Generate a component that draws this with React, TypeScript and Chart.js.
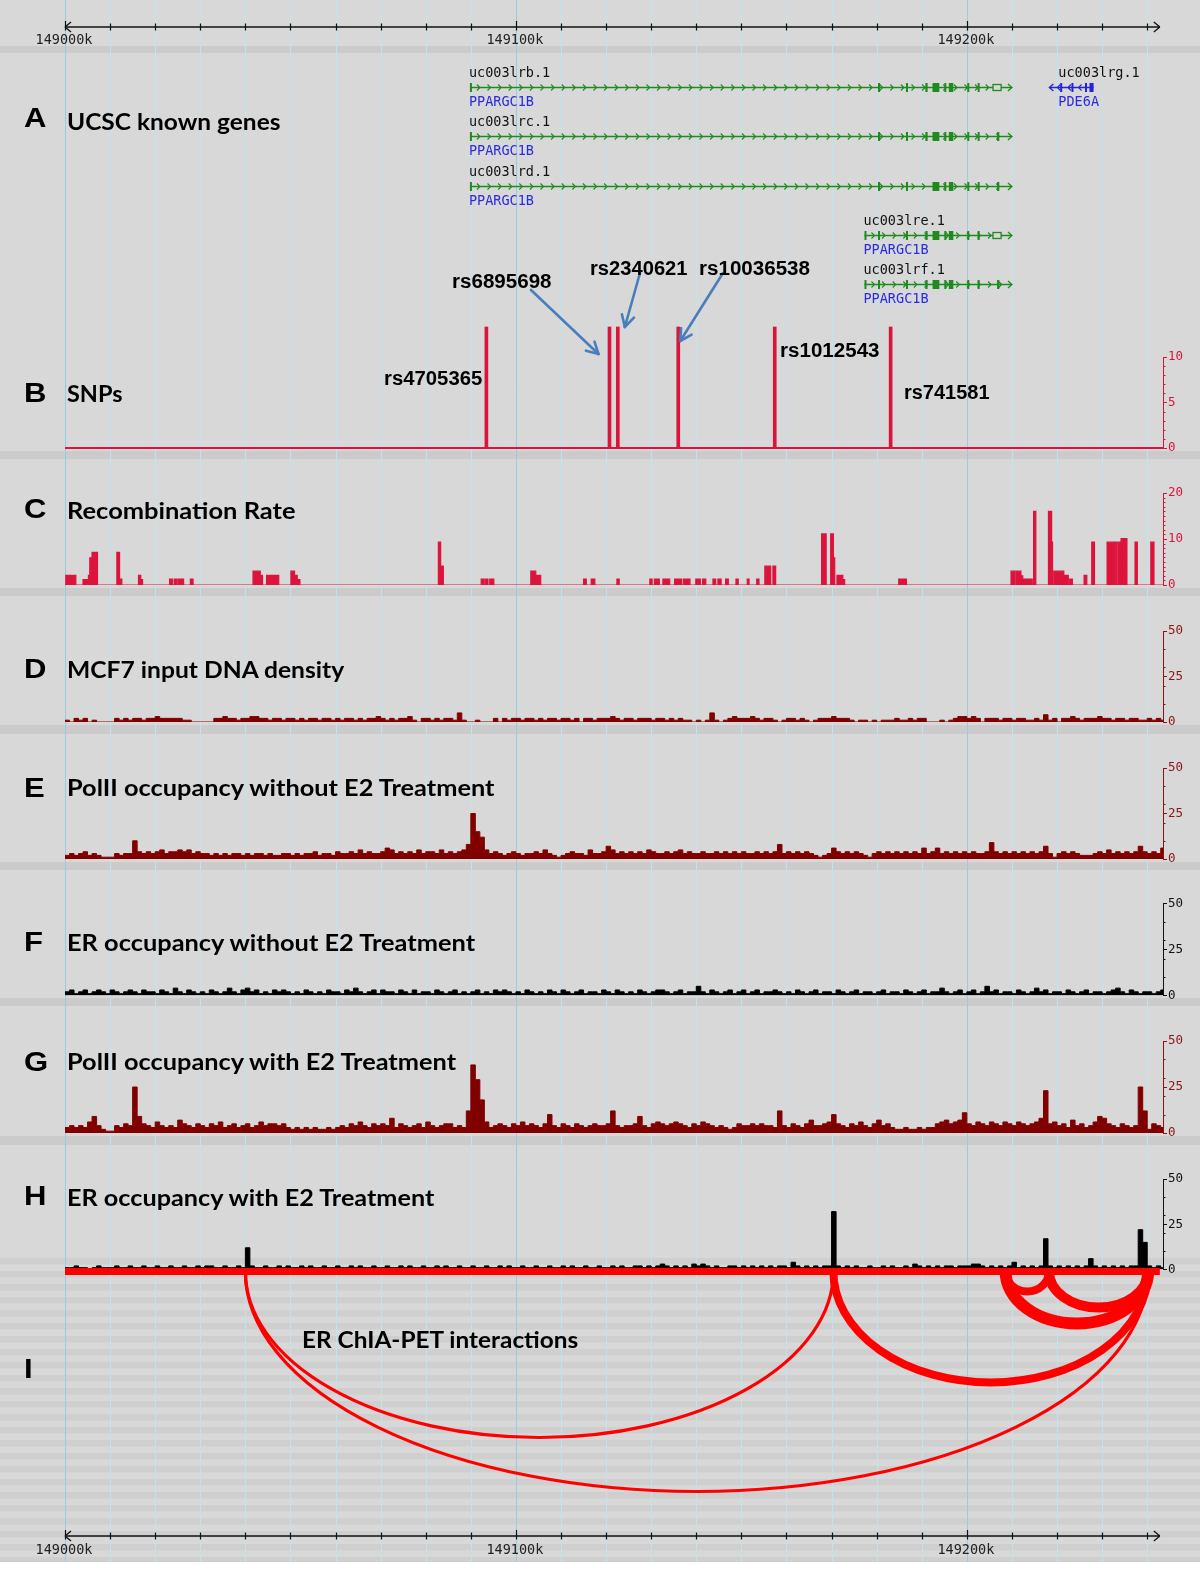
import React, { useEffect, useRef } from 'react';
import { Chart, registerables } from 'chart.js';

Chart.register(...registerables);

// ================= DATA =================
const REGION_START_KB = 149000;
const REGION_END_KB = 149243.5;
const AXIS_END_KB = 149242.8;

const axisTickKb = [149000, 149010, 149020, 149030, 149040, 149050, 149060, 149070, 149080, 149090, 149100, 149110, 149120, 149130, 149140, 149150, 149160, 149170, 149180, 149190, 149200, 149210, 149220, 149230, 149240];
const axisLabelKb = [149000, 149100, 149200];

// Genes (UCSC known genes)
const geneIds = ['uc003lrb.1', 'uc003lrc.1', 'uc003lrd.1', 'uc003lre.1', 'uc003lrf.1', 'uc003lrg.1'];
const geneSymbols = ['PPARGC1B', 'PPARGC1B', 'PPARGC1B', 'PPARGC1B', 'PPARGC1B', 'PDE6A'];
const geneRow = [0, 1, 2, 3, 4, 0];
const geneStrand = [1, 1, 1, 1, 1, -1];
const geneStartKb = [149089.8, 149089.8, 149089.8, 149177.3, 149177.3, 149218.3];
const geneEndKb = [149210.0, 149210.0, 149210.0, 149210.0, 149210.0, 149228.1];
const geneExonsKb = [
  [[149089.8, 149090.1], [149180.3, 149180.7], [149186.5, 149186.8], [149190.8, 149191.3], [149192.4, 149193.9], [149195.0, 149195.3], [149196.0, 149197.0], [149200.1, 149200.4], [149202.4, 149202.8]],
  [[149089.8, 149090.1], [149180.3, 149180.7], [149186.5, 149186.8], [149190.8, 149191.3], [149192.4, 149193.9], [149195.0, 149195.3], [149196.0, 149197.0], [149200.1, 149200.4], [149202.4, 149202.8], [149206.7, 149207.2]],
  [[149089.8, 149090.1], [149180.3, 149180.7], [149186.5, 149186.8], [149192.4, 149193.9], [149195.0, 149195.3], [149196.0, 149197.0], [149200.1, 149200.4], [149202.4, 149202.8], [149206.7, 149207.2]],
  [[149177.3, 149177.6], [149180.3, 149180.7], [149186.5, 149186.8], [149190.8, 149191.3], [149192.4, 149193.9], [149195.0, 149195.3], [149196.0, 149197.0], [149200.1, 149200.4], [149202.4, 149202.8]],
  [[149177.3, 149177.6], [149180.3, 149180.7], [149186.5, 149186.8], [149190.8, 149191.3], [149192.4, 149193.9], [149195.0, 149195.3], [149196.0, 149197.0], [149200.1, 149200.4], [149202.4, 149202.8], [149206.7, 149207.2]],
  [[149220.7, 149220.9], [149223.2, 149223.4], [149226.2, 149226.4], [149227.2, 149228.1]],
];
const geneUtrKb = [[[149205.8, 149207.6]], [], [], [[149205.8, 149207.6]], [], []];

// SNPs
const snpIds = ['rs4705365', 'rs6895698', 'rs2340621', 'rs10036538', 'rs1012543', 'rs741581'];
const snpPosKb = [149093.45, 149120.75, 149122.6, 149136.0, 149157.4, 149183.1];
const snpScore = [13.3, 13.3, 13.3, 13.3, 13.3, 13.3];

// Recombination rate segments
const recStartKb = [149000.18, 149004.0, 149005.2, 149005.5, 149006.0, 149011.5, 149012.1, 149016.3, 149016.8, 149023.2, 149024.2, 149025.1, 149027.8, 149041.7, 149043.3, 149044.7, 149050.1, 149050.9, 149051.6, 149082.8, 149083.3, 149092.3, 149093.2, 149094.2, 149103.3, 149103.9, 149104.4, 149115.0, 149116.7, 149122.4, 149129.7, 149130.7, 149132.6, 149135.2, 149137.1, 149139.9, 149141.4, 149143.7, 149144.8, 149146.5, 149148.8, 149151.3, 149153.4, 149155.2, 149157.0, 149167.8, 149169.8, 149170.4, 149171.2, 149172.5, 149184.9, 149209.8, 149211.0, 149212.0, 149212.4, 149214.8, 149218.1, 149218.8, 149219.3, 149221.5, 149222.8, 149226.0, 149227.7, 149231.1, 149232.9, 149233.6, 149234.2, 149237.3, 149240.8];
const recEndKb = [149002.4, 149005.2, 149005.5, 149006.0, 149007.2, 149012.1, 149012.6, 149016.8, 149017.2, 149023.8, 149024.8, 149026.3, 149028.4, 149043.3, 149043.8, 149047.4, 149050.9, 149051.5, 149052.1, 149083.3, 149083.9, 149092.9, 149093.8, 149095.1, 149103.7, 149104.4, 149105.5, 149115.6, 149117.5, 149122.9, 149130.2, 149131.8, 149134.1, 149136.7, 149138.6, 149140.9, 149142.1, 149144.3, 149145.5, 149147.1, 149149.3, 149151.7, 149153.9, 149156.5, 149157.6, 149168.8, 149170.4, 149170.7, 149172.5, 149172.9, 149186.6, 149210.7, 149212.0, 149212.4, 149214.5, 149215.3, 149218.8, 149219.0, 149221.5, 149222.5, 149223.4, 149226.6, 149228.3, 149232.7, 149233.3, 149234.2, 149235.5, 149237.8, 149241.5];
const recRate = [2.1, 1.2, 2.1, 5.9, 7.1, 7.1, 1.3, 2.1, 1.2, 1.3, 1.3, 1.3, 1.3, 3.0, 2.1, 2.1, 3.0, 2.1, 1.2, 9.3, 4.1, 1.3, 1.3, 1.3, 3.0, 3.0, 2.1, 1.3, 1.3, 1.3, 1.3, 1.3, 1.3, 1.3, 1.3, 1.3, 1.3, 1.3, 1.3, 1.3, 1.3, 1.3, 1.3, 4.1, 4.1, 11.1, 11.1, 5.9, 2.1, 1.2, 1.3, 3.0, 3.0, 2.0, 1.3, 16.0, 16.0, 9.3, 3.0, 2.1, 1.3, 2.1, 9.3, 9.3, 9.3, 9.3, 10.1, 9.3, 9.3];

// Read-density tracks, 1 kb bins starting at 149000k
const BIN_START_KB = 149000;
const BIN_KB = 1;
const inputDensity = [
  1, 0, 2, 1, 2, 0, 1, 0, 0, 0,
  0, 2, 1, 2, 1, 2, 2, 1, 2, 2,
  3, 2, 2, 2, 2, 2, 1, 1, 0, 0,
  0, 0, 0, 2, 2, 3, 2, 2, 1, 2,
  2, 3, 3, 2, 2, 1, 2, 2, 1, 2,
  2, 1, 2, 1, 2, 2, 1, 2, 2, 1,
  2, 1, 2, 2, 1, 2, 1, 2, 2, 3,
  2, 1, 2, 1, 2, 2, 3, 1, 0, 2,
  2, 1, 2, 1, 2, 2, 1, 5, 1, 0,
  0, 1, 0, 0, 0, 2, 0, 2, 1, 2,
  2, 1, 2, 2, 1, 2, 1, 2, 2, 1,
  2, 2, 1, 2, 0, 2, 2, 1, 2, 2,
  2, 3, 2, 1, 2, 2, 1, 2, 2, 2,
  1, 2, 2, 1, 2, 1, 2, 1, 1, 0,
  1, 0, 1, 5, 1, 0, 1, 2, 3, 2,
  2, 2, 3, 2, 1, 2, 2, 1, 0, 1,
  2, 2, 1, 2, 1, 0, 1, 2, 2, 2,
  3, 2, 2, 2, 1, 0, 1, 1, 0, 1,
  0, 1, 1, 1, 2, 1, 1, 2, 1, 2,
  2, 0, 0, 0, 1, 0, 1, 2, 3, 3,
  2, 3, 2, 0, 2, 2, 2, 1, 2, 2,
  1, 2, 2, 1, 1, 2, 1, 4, 1, 2,
  0, 2, 2, 3, 2, 1, 2, 2, 2, 3,
  2, 2, 1, 2, 2, 1, 2, 2, 1, 1,
  2, 1, 2, 1,
];
const polIINoE2 = [
  2, 3, 2, 3, 4, 2, 3, 2, 1, 1,
  1, 3, 2, 3, 3, 10, 4, 3, 4, 3,
  4, 5, 3, 4, 4, 5, 4, 5, 3, 4,
  3, 3, 2, 3, 2, 3, 2, 3, 3, 2,
  3, 2, 3, 3, 2, 3, 2, 2, 3, 3,
  2, 3, 2, 3, 3, 4, 2, 3, 3, 2,
  4, 3, 3, 4, 3, 5, 3, 4, 3, 3,
  4, 6, 5, 3, 4, 3, 4, 3, 5, 3,
  4, 4, 3, 5, 3, 4, 3, 4, 5, 8,
  25, 15, 12, 5, 3, 4, 3, 2, 3, 4,
  3, 2, 3, 3, 4, 3, 5, 3, 2, 1,
  2, 3, 4, 3, 3, 2, 5, 3, 3, 4,
  7, 5, 3, 4, 3, 4, 3, 4, 3, 5,
  4, 3, 3, 4, 3, 4, 5, 3, 4, 3,
  3, 4, 3, 3, 4, 3, 4, 3, 4, 3,
  4, 3, 3, 4, 3, 4, 3, 4, 8, 3,
  4, 3, 4, 3, 4, 3, 2, 1, 2, 3,
  6, 4, 3, 4, 3, 4, 3, 2, 1, 3,
  4, 3, 4, 3, 4, 3, 4, 3, 4, 3,
  6, 3, 4, 6, 3, 4, 3, 4, 3, 4,
  3, 4, 3, 3, 4, 9, 4, 3, 4, 3,
  4, 3, 4, 3, 4, 3, 4, 7, 3, 1,
  3, 4, 3, 4, 3, 2, 2, 2, 3, 4,
  3, 5, 3, 4, 3, 4, 3, 4, 7, 4,
  3, 4, 3, 6,
];
const erNoE2 = [
  2, 3, 1, 2, 3, 1, 2, 3, 2, 1,
  3, 2, 1, 2, 3, 2, 1, 3, 2, 2,
  1, 3, 2, 1, 4, 2, 1, 3, 2, 1,
  2, 1, 3, 2, 1, 2, 4, 2, 1, 3,
  4, 2, 3, 1, 2, 1, 3, 2, 3, 2,
  1, 2, 1, 3, 2, 1, 2, 1, 3, 2,
  2, 1, 3, 2, 4, 2, 1, 2, 3, 1,
  3, 2, 2, 1, 3, 2, 1, 3, 1, 2,
  2, 1, 3, 2, 1, 2, 3, 1, 2, 1,
  2, 3, 1, 2, 1, 3, 2, 3, 2, 1,
  2, 1, 3, 2, 1, 2, 1, 3, 2, 1,
  3, 2, 1, 2, 3, 1, 2, 2, 1, 3,
  2, 1, 3, 2, 1, 2, 1, 3, 2, 1,
  2, 3, 3, 2, 1, 2, 3, 1, 2, 2,
  5, 2, 1, 3, 2, 1, 2, 3, 1, 2,
  3, 1, 2, 3, 1, 2, 2, 3, 2, 1,
  2, 1, 3, 2, 1, 2, 3, 1, 2, 2,
  1, 3, 2, 1, 2, 3, 1, 2, 2, 1,
  2, 3, 1, 2, 2, 1, 3, 2, 1, 2,
  3, 1, 2, 2, 4, 2, 1, 2, 3, 1,
  2, 3, 1, 2, 5, 2, 3, 1, 2, 2,
  1, 3, 2, 1, 2, 4, 2, 3, 1, 2,
  2, 1, 3, 2, 1, 2, 3, 1, 2, 2,
  1, 2, 3, 4, 2, 1, 3, 2, 1, 2,
  2, 1, 2, 3,
];
const polIIE2 = [
  3, 4, 3, 4, 3, 6, 9, 4, 2, 1,
  1, 4, 3, 5, 4, 25, 9, 5, 4, 3,
  6, 4, 3, 4, 3, 7, 5, 4, 3, 5,
  4, 3, 5, 4, 6, 3, 4, 5, 3, 4,
  5, 3, 4, 6, 4, 5, 5, 4, 5, 3,
  2, 3, 2, 3, 2, 3, 2, 2, 3, 2,
  3, 4, 3, 5, 4, 6, 4, 3, 5, 4,
  5, 4, 8, 3, 5, 4, 3, 4, 5, 3,
  6, 4, 3, 4, 5, 5, 3, 4, 3, 12,
  37, 29, 18, 6, 3, 4, 5, 4, 3, 5,
  4, 6, 4, 5, 4, 3, 5, 10, 4, 3,
  5, 4, 3, 5, 4, 3, 4, 5, 4, 4,
  5, 12, 4, 3, 4, 4, 5, 9, 4, 3,
  5, 6, 5, 4, 5, 6, 5, 4, 3, 5,
  4, 6, 5, 4, 3, 4, 3, 2, 3, 5,
  4, 4, 5, 4, 5, 4, 4, 3, 12, 4,
  3, 5, 4, 3, 5, 7, 4, 4, 5, 6,
  10, 5, 4, 3, 5, 4, 6, 4, 3, 5,
  7, 4, 5, 3, 2, 2, 3, 2, 2, 3,
  2, 3, 3, 5, 6, 7, 5, 6, 7, 11,
  5, 4, 6, 5, 4, 6, 5, 4, 6, 5,
  4, 6, 5, 4, 5, 6, 8, 23, 5, 6,
  4, 5, 3, 7, 4, 5, 3, 4, 6, 9,
  8, 5, 4, 3, 5, 4, 3, 4, 25, 12,
  2, 5, 4, 3,
];
const erE2 = [
  1, 1, 2, 1, 1, 0, 1, 2, 1, 1,
  1, 2, 1, 1, 2, 1, 1, 2, 1, 1,
  2, 1, 1, 2, 1, 1, 2, 1, 1, 2,
  1, 2, 2, 1, 1, 2, 1, 1, 2, 1,
  12, 2, 1, 1, 2, 1, 1, 2, 1, 2,
  1, 1, 2, 1, 2, 1, 1, 2, 1, 1,
  2, 1, 1, 2, 1, 2, 1, 1, 2, 1,
  1, 2, 1, 1, 2, 1, 2, 1, 1, 2,
  1, 1, 2, 1, 2, 1, 1, 2, 1, 1,
  2, 1, 1, 2, 1, 1, 2, 1, 2, 1,
  1, 2, 1, 1, 2, 1, 1, 2, 1, 1,
  2, 1, 2, 1, 1, 2, 1, 1, 2, 1,
  1, 2, 1, 2, 1, 1, 2, 2, 1, 2,
  1, 2, 3, 2, 1, 2, 1, 2, 1, 3,
  2, 3, 2, 1, 2, 1, 1, 2, 2, 1,
  2, 1, 2, 1, 2, 1, 2, 1, 2, 2,
  1, 4, 2, 1, 2, 1, 2, 1, 2, 2,
  32, 2, 1, 2, 1, 2, 1, 1, 2, 1,
  1, 2, 1, 2, 1, 1, 2, 1, 3, 2,
  1, 2, 1, 2, 1, 2, 2, 1, 2, 2,
  2, 3, 3, 2, 1, 2, 1, 2, 1, 2,
  4, 1, 2, 1, 2, 1, 2, 17, 2, 1,
  2, 1, 2, 1, 2, 1, 2, 6, 2, 1,
  2, 1, 2, 1, 2, 1, 2, 2, 22, 15,
  2, 1, 2, 1,
];

// ChIA-PET interactions
const chiaAnchorAKb = [149040.0, 149040.0, 149170.4, 149208.6, 149218.2, 149208.6];
const chiaAnchorBKb = [149240.2, 149170.4, 149240.2, 149240.2, 149240.2, 149218.2];
const chiaDepth = [220, 166, 111, 52, 36, 20];
const chiaWeight = [3.2, 3.2, 8, 12, 10, 8];

// Track titles
const panelLetters = ['A', 'B', 'C', 'D', 'E', 'F', 'G', 'H', 'I'];
const panelTitles = ['UCSC known genes', 'SNPs', 'Recombination Rate', 'MCF7 input DNA density', 'PolII occupancy without E2 Treatment', 'ER occupancy without E2 Treatment', 'PolII occupancy with E2 Treatment', 'ER occupancy with E2 Treatment', 'ER ChIA-PET interactions'];

// ================= LAYOUT / STYLE =================
const W = 1200;
const PLOT_LEFT = 65;
const AXIS_W = 37;
const BG_H = 1562;
const BG = '#d8d8d8';
const BAND = '#cbcbcb';
const STRIPE = '#cfcfcf';
const BANDS = [[46, 53], [451, 459], [588, 596], [725, 734], [862, 870], [998, 1006], [1136, 1145]];
const STRIPE_TOP = 1258;
const STRIPE_PERIOD = 13;
const GRID_MINOR = '#bfe4ee';
const GRID_MAJOR = '#9ccbe0';
const TOP_AXIS_Y = 27;
const TOP_LABEL_Y = 40.5;
const BOTTOM_AXIS_Y = 1536;
const BOTTOM_LABEL_Y = 1550;
const CRIMSON = '#dc143c';
const DARKRED = '#800000';
const AXIS_DARKRED = '#8b1515';
const GREEN = '#1f8b1f';
const BLUE = '#2323d8';
const ARC_RED = '#ff0000';
const MONO = '"DejaVu Sans Mono", monospace';

const letterY = [118, 392.5, 509, 668.5, 787.5, 941.5, 1061.5, 1196, 1369];
const titleX = [67, 67, 67, 67, 67, 67, 67, 67, 302];
const titleY = [122, 394, 511, 670, 788.3, 943, 1061.7, 1197.5, 1340];
const titleW = [213.5, 55.5, 228.5, 278, 429.4, 410, 391, 369.3, 277];

const snpLabelX = [384, 451.5, 589.5, 698.5, 780, 904];
const snpLabelY = [377.5, 280.5, 267.5, 267.5, 350, 391.5];
const snpLabelW = [98.3, 99.5, 97.5, 111, 99.5, 85.5];
const snpArrowTail = [null, [531, 290], [640, 273], [723, 273], null, null];
const snpArrowTipDx = [0, -11, 7, 2, 0, 0];
const snpArrowTipY = [0, 354, 327, 341, 0, 0];

// ================= HELPERS =================
function line(ctx, x0, y0, x1, y1) {
  ctx.beginPath();
  ctx.moveTo(x0, y0);
  ctx.lineTo(x1, y1);
  ctx.stroke();
}

function binPoints(vals) {
  const pts = vals.map((v, i) => ({ x: BIN_START_KB + i * BIN_KB, y: v }));
  pts.push({ x: BIN_START_KB + vals.length * BIN_KB, y: 0 });
  return pts;
}

function recPoints() {
  const pts = [{ x: REGION_START_KB, y: 0 }];
  recStartKb.forEach((s, i) => {
    pts.push({ x: s, y: recRate[i] });
    pts.push({ x: recEndKb[i], y: 0 });
  });
  pts.push({ x: REGION_END_KB, y: 0 });
  return pts;
}

function drawGenomeAxis(ctx, x, y, labelY) {
  const x0 = x.getPixelForValue(REGION_START_KB);
  const x1 = x.getPixelForValue(AXIS_END_KB);
  ctx.strokeStyle = '#111';
  ctx.lineWidth = 1.3;
  line(ctx, x0, y, x1, y);
  line(ctx, x0, y, x0 + 6, y - 5);
  line(ctx, x0, y, x0 + 6, y + 5);
  line(ctx, x1, y, x1 - 6, y - 5);
  line(ctx, x1, y, x1 - 6, y + 5);
  ctx.lineWidth = 1.2;
  for (const kb of axisTickKb) {
    const px = Math.round(x.getPixelForValue(kb)) + 0.5;
    const major = axisLabelKb.includes(kb);
    line(ctx, px, y - (major ? 6 : 3.5), px, y + 3.5);
  }
  ctx.fillStyle = '#222';
  ctx.font = `13.5px ${MONO}`;
  ctx.textAlign = 'center';
  ctx.textBaseline = 'middle';
  for (const kb of axisLabelKb) {
    ctx.fillText(`${kb}k`, x.getPixelForValue(kb) - 1, labelY);
  }
}

const bgPlugin = {
  id: 'bgTracks',
  beforeDraw(chart) {
    const { ctx, width, height } = chart;
    const x = chart.scales.x;
    ctx.save();
    ctx.fillStyle = BG;
    ctx.fillRect(0, 0, width, height);
    ctx.fillStyle = BAND;
    for (const [a, b] of BANDS) ctx.fillRect(0, a, width, b - a);
    ctx.fillStyle = STRIPE;
    for (let y = STRIPE_TOP; y < height; y += STRIPE_PERIOD) ctx.fillRect(0, y, width, STRIPE_PERIOD / 2);
    ctx.lineWidth = 1;
    for (const kb of axisTickKb) {
      const px = Math.round(x.getPixelForValue(kb)) + 0.5;
      ctx.strokeStyle = kb % 100 === 0 ? GRID_MAJOR : GRID_MINOR;
      line(ctx, px, 0, px, height);
    }
    drawGenomeAxis(ctx, x, TOP_AXIS_Y, TOP_LABEL_Y);
    drawGenomeAxis(ctx, x, BOTTOM_AXIS_Y, BOTTOM_LABEL_Y);
    ctx.restore();
  },
};

const genePlugin = {
  id: 'genes',
  afterDraw(chart) {
    const { ctx } = chart;
    const x = chart.scales.x;
    const y = chart.scales.y;
    ctx.save();
    geneIds.forEach((id, g) => {
      const yc = Math.round(y.getPixelForValue(geneRow[g])) + 0.5;
      const xs = x.getPixelForValue(geneStartKb[g]);
      const xe = x.getPixelForValue(geneEndKb[g]);
      const dir = geneStrand[g];
      const col = dir > 0 ? GREEN : BLUE;
      ctx.strokeStyle = col;
      ctx.fillStyle = col;
      ctx.lineWidth = 1.5;
      line(ctx, xs, yc, xe, yc);
      ctx.lineWidth = 1.1;
      for (let px = xs + 9; px < xe - 5; px += 10.6) {
        ctx.beginPath();
        ctx.moveTo(px - 2 * dir, yc - 3);
        ctx.lineTo(px + 1 * dir, yc);
        ctx.lineTo(px - 2 * dir, yc + 3);
        ctx.stroke();
      }
      const tip = dir > 0 ? xe : xs;
      ctx.lineWidth = 1.3;
      ctx.beginPath();
      ctx.moveTo(tip - 4 * dir, yc - 3.5);
      ctx.lineTo(tip, yc);
      ctx.lineTo(tip - 4 * dir, yc + 3.5);
      ctx.stroke();
      for (const [a, b] of geneExonsKb[g]) {
        const xa = x.getPixelForValue(a);
        const xb = x.getPixelForValue(b);
        ctx.fillRect(xa, yc - 4.5, Math.max(xb - xa, 2), 9);
      }
      for (const [a, b] of geneUtrKb[g]) {
        const xa = x.getPixelForValue(a);
        const xb = x.getPixelForValue(b);
        ctx.fillStyle = BG;
        ctx.fillRect(xa, yc - 3, xb - xa, 6);
        ctx.lineWidth = 1.3;
        ctx.strokeRect(xa, yc - 3, xb - xa, 6);
        ctx.fillStyle = col;
      }
      ctx.font = `13.5px ${MONO}`;
      ctx.textAlign = 'left';
      ctx.textBaseline = 'middle';
      const lx = dir > 0 ? xs - 1 : xs + 9;
      ctx.fillStyle = '#111';
      ctx.fillText(id, lx, yc - 14.5);
      ctx.fillStyle = '#2a2ae0';
      ctx.fillText(geneSymbols[g], lx, yc + 14.5);
    });
    ctx.restore();
  },
};

const snpPlugin = {
  id: 'snpExtras',
  beforeDatasetsDraw(chart) {
    const { ctx, chartArea } = chart;
    const y0 = chart.scales.y.getPixelForValue(0);
    ctx.save();
    ctx.strokeStyle = CRIMSON;
    ctx.lineWidth = 2;
    line(ctx, chartArea.left, y0, chartArea.right, y0);
    ctx.restore();
  },
  afterDraw(chart) {
    const { ctx } = chart;
    const x = chart.scales.x;
    const off = CANVASES.snp.top;
    ctx.save();
    ctx.strokeStyle = '#4a7ebb';
    ctx.lineWidth = 2.6;
    ctx.lineCap = 'round';
    snpPosKb.forEach((p, i) => {
      const tail = snpArrowTail[i];
      if (!tail) return;
      const tx = x.getPixelForValue(p) + snpArrowTipDx[i];
      const ty = snpArrowTipY[i] - off;
      const sx = tail[0];
      const sy = tail[1] - off;
      line(ctx, sx, sy, tx, ty);
      const ang = Math.atan2(ty - sy, tx - sx);
      const L = 13;
      const spread = 0.5;
      line(ctx, tx, ty, tx - L * Math.cos(ang - spread), ty - L * Math.sin(ang - spread));
      line(ctx, tx, ty, tx - L * Math.cos(ang + spread), ty - L * Math.sin(ang + spread));
    });
    ctx.restore();
  },
};

const chiaPlugin = {
  id: 'chiaArcs',
  afterDraw(chart) {
    const { ctx } = chart;
    const x = chart.scales.x;
    const y = chart.scales.y;
    const y0 = y.getPixelForValue(0);
    ctx.save();
    ctx.strokeStyle = ARC_RED;
    chiaAnchorAKb.forEach((a, i) => {
      const xa = x.getPixelForValue(a);
      const xb = x.getPixelForValue(chiaAnchorBKb[i]);
      const ry = y.getPixelForValue(chiaDepth[i]) - y0;
      ctx.lineWidth = chiaWeight[i];
      ctx.beginPath();
      ctx.ellipse((xa + xb) / 2, y0, (xb - xa) / 2, ry, 0, 0, Math.PI);
      ctx.stroke();
    });
    ctx.lineWidth = 7;
    ctx.lineCap = 'butt';
    line(ctx, x.getPixelForValue(REGION_START_KB), y0, x.getPixelForValue(AXIS_END_KB), y0);
    ctx.restore();
  },
};

function minorTickPlugin(vals, color) {
  return {
    id: 'minorTicks',
    afterDraw(chart) {
      const y = chart.scales.y;
      const { ctx } = chart;
      ctx.save();
      ctx.strokeStyle = color;
      ctx.lineWidth = 1;
      for (const v of vals) {
        const py = Math.round(y.getPixelForValue(v)) + 0.5;
        line(ctx, y.left, py, y.left + 2.5, py);
      }
      ctx.restore();
    },
  };
}

function baseOptions(padTop, padBottom, padRight) {
  return {
    responsive: false,
    animation: false,
    devicePixelRatio: 1,
    events: [],
    layout: { padding: { left: PLOT_LEFT, right: padRight, top: padTop, bottom: padBottom } },
    plugins: { legend: { display: false }, tooltip: { enabled: false }, title: { display: false } },
  };
}

function plainChart(canvas, padTop, padBottom, yMin, yMax, reverse, plugin) {
  return new Chart(canvas, {
    type: 'scatter',
    data: { datasets: [] },
    options: {
      ...baseOptions(padTop, padBottom, AXIS_W),
      scales: {
        x: { type: 'linear', min: REGION_START_KB, max: REGION_END_KB, display: false, offset: false },
        y: { type: 'linear', min: yMin, max: yMax, reverse, display: false },
      },
    },
    plugins: [plugin],
  });
}

function trackChart(canvas, spec) {
  const { top, height, plotTop, plotBottom, yMax, majorTicks, minorTicks, axisColor, type, datasets, plugins } = spec;
  return new Chart(canvas, {
    type,
    data: { datasets },
    options: {
      ...baseOptions(plotTop - top, top + height - plotBottom, 0),
      scales: {
        x: { type: 'linear', min: REGION_START_KB, max: REGION_END_KB, display: false, offset: false },
        y: {
          type: 'linear',
          position: 'right',
          min: 0,
          max: yMax,
          afterBuildTicks: (s) => {
            s.ticks = majorTicks.map((v) => ({ value: v }));
          },
          afterFit: (s) => {
            s.width = AXIS_W;
          },
          grid: { drawOnChartArea: false, color: axisColor, tickLength: 4, lineWidth: 1 },
          border: { display: true, color: axisColor, width: 1 },
          ticks: {
            color: axisColor,
            padding: 1,
            autoSkip: false,
            font: { family: MONO, size: 12.5 },
            callback: (v) => String(v),
          },
        },
      },
    },
    plugins: [minorTickPlugin(minorTicks, axisColor), ...(plugins || [])],
  });
}

function signalDataset(vals, color) {
  return {
    data: binPoints(vals),
    stepped: true,
    fill: 'origin',
    backgroundColor: color,
    borderColor: color,
    borderWidth: 1,
    pointRadius: 0,
  };
}

let measureCtx = null;
function textScale(text, font, target) {
  if (typeof document === 'undefined') return 1;
  if (!measureCtx) measureCtx = document.createElement('canvas').getContext('2d');
  measureCtx.font = font;
  const w = measureCtx.measureText(text).width;
  return w > 0 ? target / w : 1;
}

function Label({ text, x, y, font, color, target, scale }) {
  const s = target ? textScale(text, font, target) : scale || 1;
  return (
    <div
      style={{
        position: 'absolute',
        left: x,
        top: y,
        font,
        lineHeight: 1,
        color,
        whiteSpace: 'nowrap',
        transform: `translateY(-50%) scaleX(${s})`,
        transformOrigin: 'left center',
      }}
    >
      {text}
    </div>
  );
}

// canvas placements
const CANVASES = {
  bg: { top: 0, height: BG_H },
  genes: { top: 55, height: 260 },
  snp: { top: 255, height: 210 },
  rec: { top: 470, height: 130 },
  d: { top: 610, height: 125 },
  e: { top: 750, height: 125 },
  f: { top: 885, height: 125 },
  g: { top: 1020, height: 125 },
  h: { top: 1160, height: 125 },
  i: { top: 1250, height: BG_H - 1250 },
};

export default function App() {
  const refs = useRef({});

  useEffect(() => {
    const c = refs.current;
    const charts = [];
    charts.push(plainChart(c.bg, 0, 0, 0, 1, false, bgPlugin));
    // genes: rows 0..4, row 0 at y=87, spacing 49.25
    charts.push(plainChart(c.genes, 62.4 - 55, 315 - 308.6, -0.5, 4.5, true, genePlugin));
    charts.push(
      trackChart(c.snp, {
        ...CANVASES.snp,
        plotTop: 357,
        plotBottom: 448,
        yMax: 10,
        majorTicks: [0, 5, 10],
        minorTicks: [1, 2, 3, 4, 6, 7, 8, 9],
        axisColor: CRIMSON,
        type: 'bar',
        datasets: [
          {
            data: snpPosKb.map((p, i) => ({ x: p, y: snpScore[i] })),
            backgroundColor: CRIMSON,
            barThickness: 3,
            borderWidth: 0,
            clip: false,
          },
        ],
        plugins: [snpPlugin],
      })
    );
    charts.push(
      trackChart(c.rec, {
        ...CANVASES.rec,
        plotTop: 493,
        plotBottom: 585,
        yMax: 20,
        majorTicks: [0, 10, 20],
        minorTicks: [1, 2, 3, 4, 5, 6, 7, 8, 9, 11, 12, 13, 14, 15, 16, 17, 18, 19],
        axisColor: CRIMSON,
        type: 'line',
        datasets: [
          { data: recPoints(), stepped: true, fill: 'origin', backgroundColor: CRIMSON, borderColor: CRIMSON, borderWidth: 1.2, pointRadius: 0 },
        ],
      })
    );
    const sig = [
      ['d', inputDensity, 631, 722, DARKRED, AXIS_DARKRED],
      ['e', polIINoE2, 768, 859, DARKRED, AXIS_DARKRED],
      ['f', erNoE2, 903.5, 995.5, '#000000', '#111111'],
      ['g', polIIE2, 1041, 1133, DARKRED, AXIS_DARKRED],
      ['h', erE2, 1179, 1269.5, '#000000', '#111111'],
    ];
    for (const [k, vals, pt, pb, col, axCol] of sig) {
      charts.push(
        trackChart(c[k], {
          ...CANVASES[k],
          plotTop: pt,
          plotBottom: pb,
          yMax: 50,
          majorTicks: [0, 25, 50],
          minorTicks: [10, 20, 30, 40],
          axisColor: axCol,
          type: 'line',
          datasets: [signalDataset(vals, col)],
        })
      );
    }
    const iTop = CANVASES.i.top;
    charts.push(plainChart(c.i, 1271.5 - iTop, 0, 0, BG_H - 1271.5, true, chiaPlugin));
    return () => charts.forEach((ch) => ch.destroy());
  }, []);

  const canvasEl = (k) => (
    <canvas
      key={k}
      ref={(el) => {
        refs.current[k] = el;
      }}
      width={W}
      height={CANVASES[k].height}
      style={{ position: 'absolute', left: 0, top: CANVASES[k].top, width: W, height: CANVASES[k].height }}
    />
  );

  const titleFont = '700 22px Lato, "Open Sans", sans-serif';
  const letterFont = '700 27px "Liberation Sans", Arial, sans-serif';
  const snpFont = '700 20px "Liberation Sans", Arial, sans-serif';

  return (
    <div style={{ position: 'absolute', left: 0, top: 0, width: W, height: 1578, background: '#ffffff', overflow: 'hidden' }}>
      {Object.keys(CANVASES).map(canvasEl)}
      {panelLetters.map((l, i) => (
        <Label key={'l' + l} text={l} x={24} y={letterY[i]} font={letterFont} color="#000" scale={1.15} />
      ))}
      {panelTitles.map((t, i) => (
        <Label key={'t' + i} text={t} x={titleX[i]} y={titleY[i]} font={titleFont} color="#000" target={titleW[i]} />
      ))}
      {snpIds.map((s, i) => (
        <Label key={s} text={s} x={snpLabelX[i]} y={snpLabelY[i]} font={snpFont} color="#000" target={snpLabelW[i]} />
      ))}
    </div>
  );
}
